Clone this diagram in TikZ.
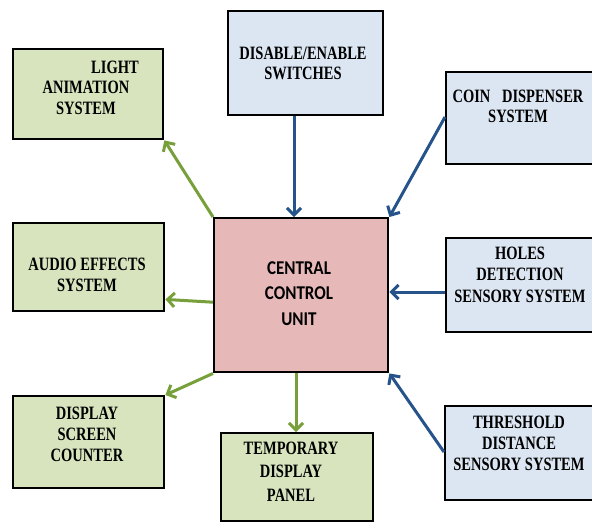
\documentclass[tikz,border=0pt]{standalone}
\usepackage{fontspec}
\setmainfont{Liberation Serif}
\newfontfamily\cfont{Carlito}
\usetikzlibrary{arrows.meta}
\definecolor{gfill}{HTML}{D7E4BD}
\definecolor{bfill}{HTML}{DCE6F2}
\definecolor{pfill}{HTML}{E6B9B8}
\definecolor{garrow}{HTML}{77A03A}
\definecolor{barrow}{HTML}{25538A}
\newcommand{\lbl}[3][15.8]{\scalebox{1}[1.3]{\fontsize{14.5}{#1}\selectfont\bfseries\begin{tabular}[t]{@{}c@{}}#3\end{tabular}}}
\begin{document}
\begin{tikzpicture}[x=1pt,y=-1pt,
  box/.style={draw=black,line width=2.4pt,inner sep=0pt,anchor=north west,rectangle},
  gbox/.style={box,fill=gfill},
  bbox/.style={box,fill=bfill},
  txt/.style={anchor=base,inner sep=0pt},
  garr/.style={draw=garrow,line width=3pt,-{Straight Barb[length=7pt,width=14pt]}},
  barr/.style={draw=barrow,line width=3pt,-{Straight Barb[length=7pt,width=14pt]}}]
\useasboundingbox (0,0) rectangle (592,523);
\clip (0,0) rectangle (592,523);
% boxes
\node[gbox,minimum width=150pt,minimum height=90pt] (light) at (12,48) {};
\node[bbox,minimum width=155pt,minimum height=104pt] (disable) at (227,10) {};
\node[bbox,minimum width=155pt,minimum height=92pt] (coin) at (445,71) {};
\node[bbox,minimum width=155pt,minimum height=94pt] (holes) at (445,237) {};
\node[bbox,minimum width=156pt,minimum height=94pt] (thresh) at (444,405) {};
\node[gbox,minimum width=151pt,minimum height=88pt] (audio) at (12,222) {};
\node[gbox,minimum width=151pt,minimum height=92pt] (display) at (12,395) {};
\node[gbox,minimum width=152pt,minimum height=88pt] (temp) at (220,432) {};
\node[box,fill=pfill,minimum width=174pt,minimum height=154pt] (central) at (213,217) {};
% texts
\node[txt] (tlight) at (86,73) {\lbl{2}{\hspace*{58pt}LIGHT\\ANIMATION\\SYSTEM}};
\node[txt] (tdisable) at (303,59) {\lbl[15.4]{2}{DISABLE/ENABLE\\SWITCHES}};
\node[txt] (tcoin) at (518,102) {\lbl[15.8]{2}{COIN\hspace{8pt} DISPENSER\\SYSTEM}};
\node[txt] (tholes) at (520,259) {\lbl[16.6]{2}{HOLES\\DETECTION\\SENSORY SYSTEM}};
\node[txt] (tthresh) at (519,428) {\lbl[16.2]{2}{THRESHOLD\\DISTANCE\\SENSORY SYSTEM}};
\node[txt] (taudio) at (87,270) {\lbl[16.2]{2}{AUDIO EFFECTS\\SYSTEM}};
\node[txt] (tdisplay) at (87,419) {\lbl[16.2]{2}{DISPLAY\\SCREEN\\COUNTER}};
\node[txt] (ttemp) at (291,454) {\lbl[18.1]{2}{TEMPORARY\\DISPLAY\\PANEL}};
\node[txt] (tcentral) at (299,274) {\scalebox{1}[1.15]{\fontsize{17}{22.6}\selectfont\cfont\bfseries\begin{tabular}[t]{@{}c@{}}CENTRAL\\CONTROL\\UNIT\end{tabular}}};
% arrows
\draw[garr] (central.north west) -- (light.south east);
\draw[barr] ([xshift=67pt]disable.south west) -- ([xshift=81pt]central.north west);
\draw[barr] ([yshift=-46pt]coin.north west) -- (central.north east);
\draw[garr] ([yshift=-7pt]central.west) -- ([yshift=13pt]audio.south east);
\draw[garr] (central.south west) -- (display.north east);
\draw[garr] ([xshift=83pt]central.south west) -- ([xshift=76pt]temp.north west);
\draw[barr] ([yshift=-55pt]holes.north west) -- ([yshift=-75pt]central.north east);
\draw[barr] ([yshift=-47pt]thresh.north west) -- (central.south east);
\end{tikzpicture}
\end{document}
